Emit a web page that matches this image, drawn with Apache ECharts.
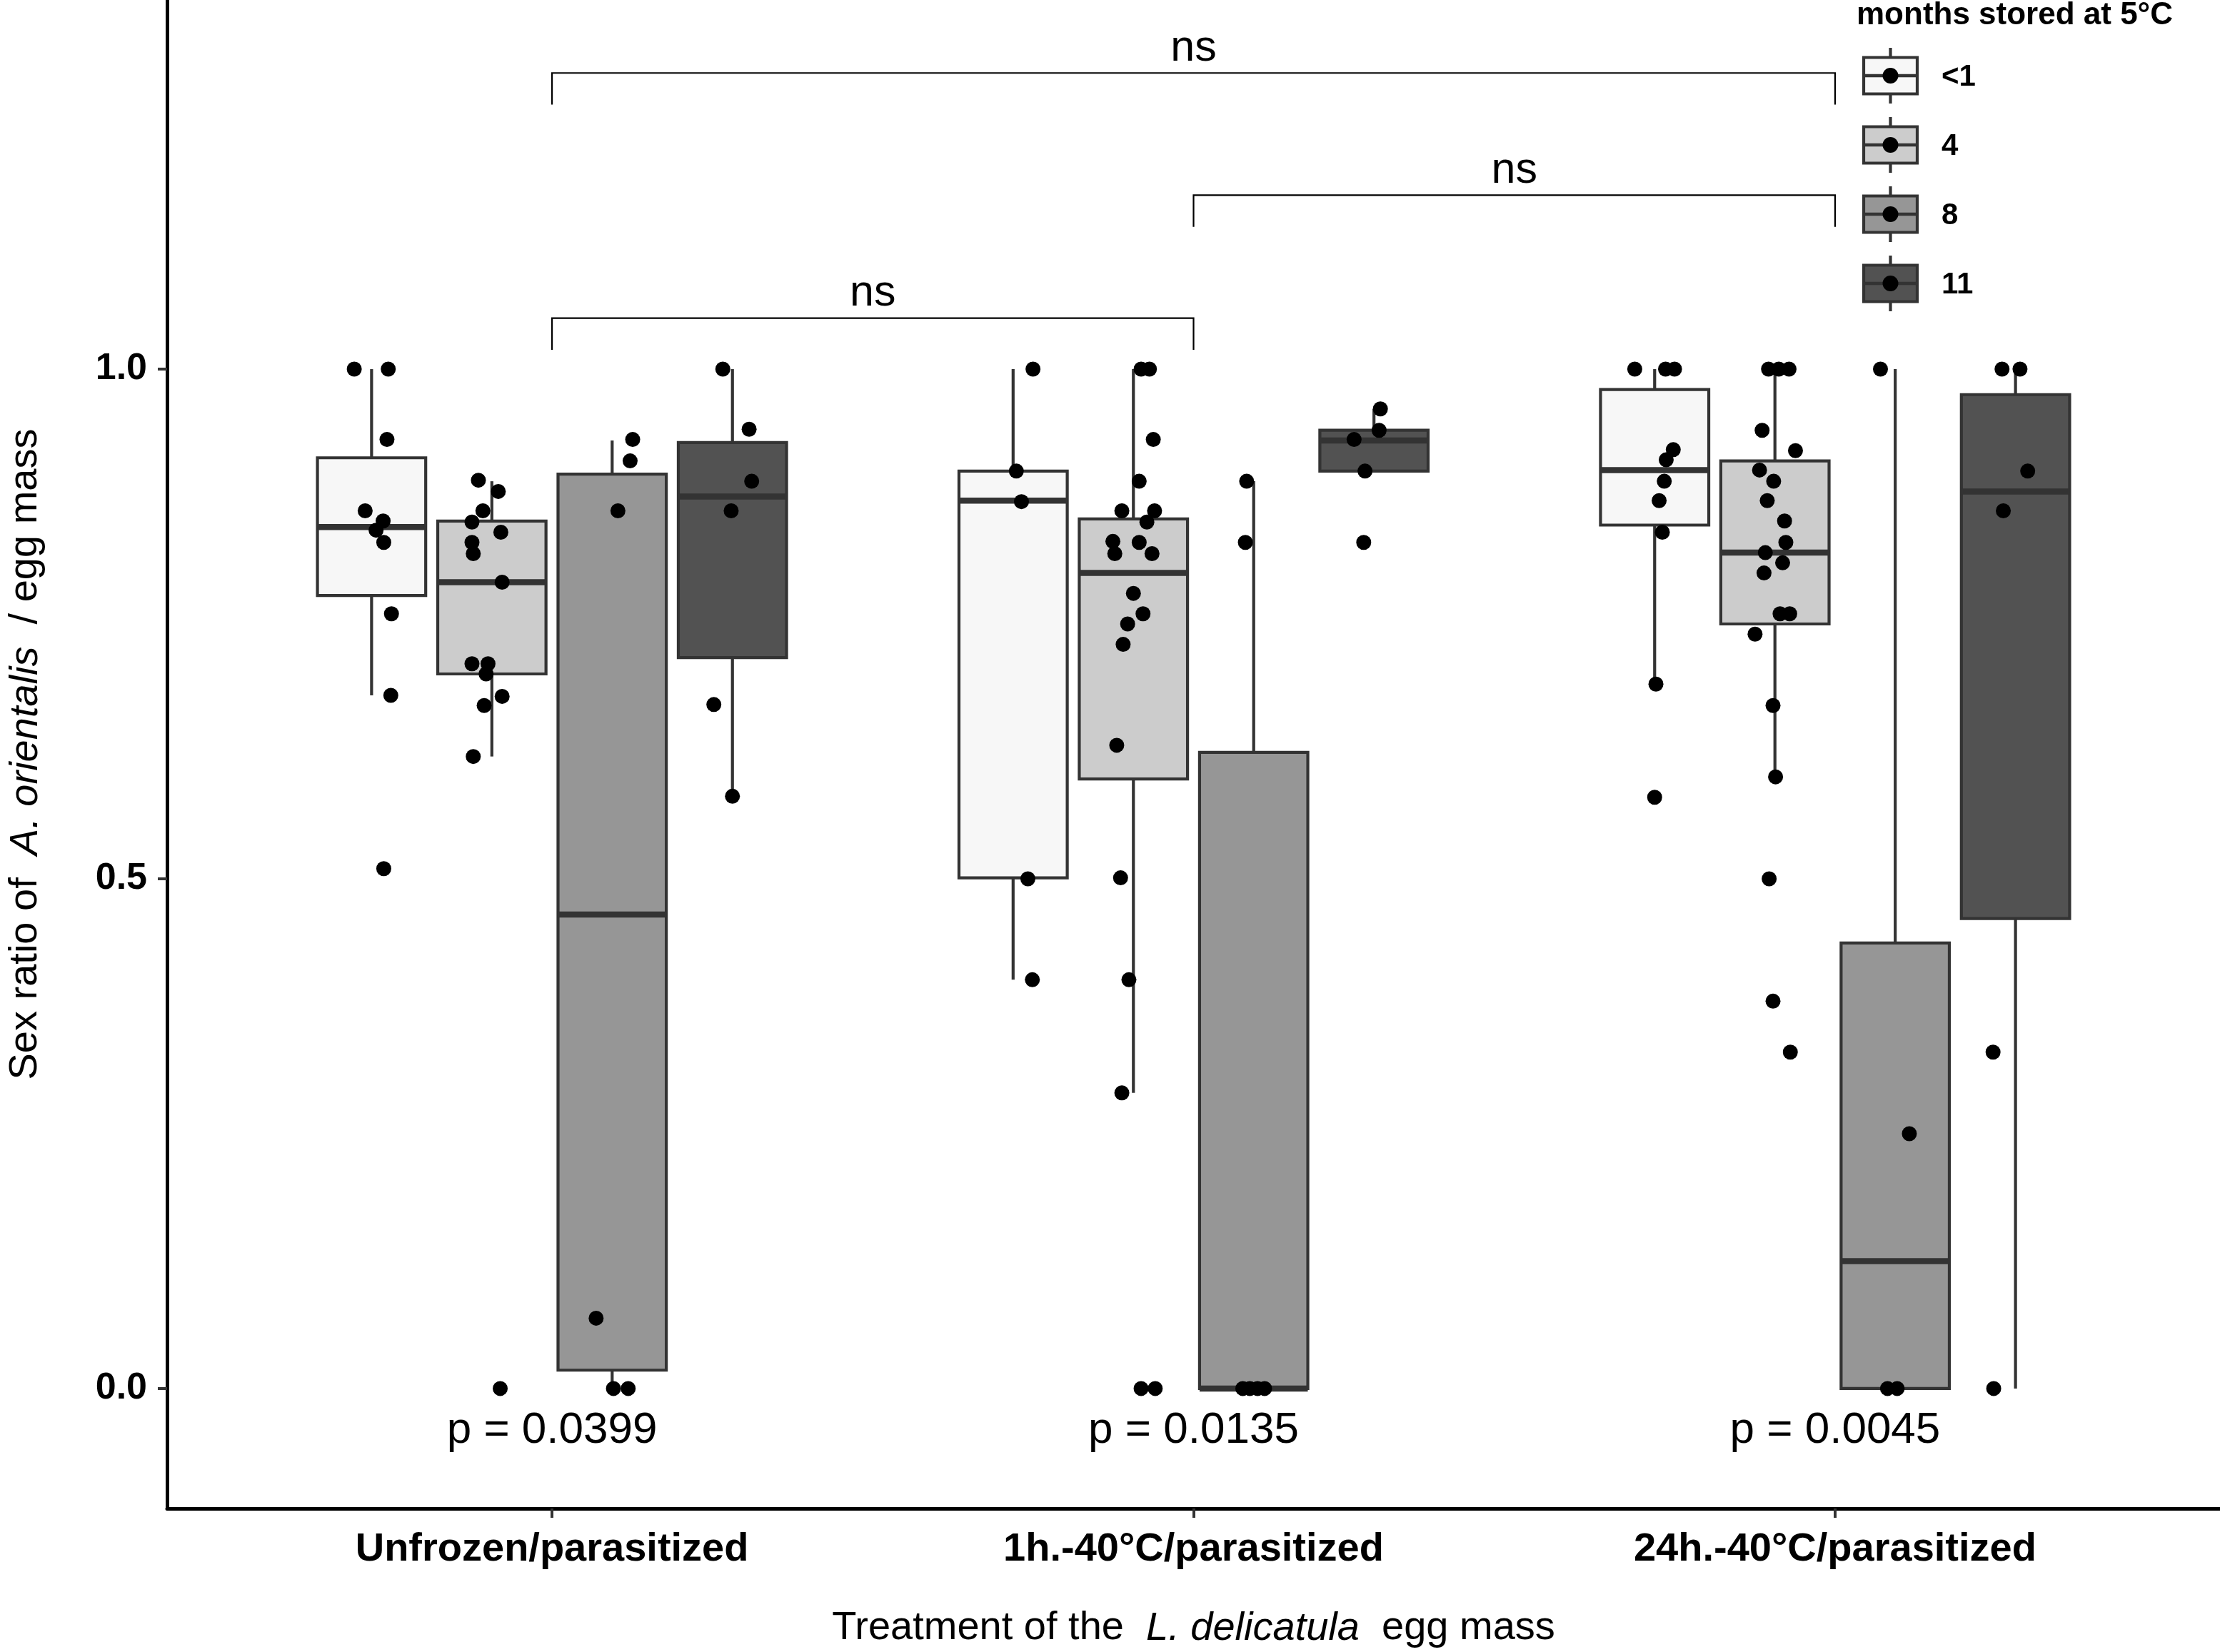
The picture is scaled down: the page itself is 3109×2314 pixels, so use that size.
<!DOCTYPE html>
<html><head><meta charset="utf-8">
<script src="https://cdn.jsdelivr.net/npm/echarts@6/dist/echarts.min.js"></script>
<style>html,body{margin:0;padding:0;background:#fff}#chart{width:3109px;height:2314px}</style>
</head><body><div id="chart"></div>
<script>
// ---------------- data ----------------
const categories = ['Unfrozen/parasitized', '1h.-40°C/parasitized', '24h.-40°C/parasitized'];
const storageGroups = ['<1', '4', '8', '11'];
const yTicks = [0, 0.5, 1.0];

// box statistics per treatment: [lower whisker, Q1, median, Q3, upper whisker]
const boxLess1 = [[0.680, 0.778, 0.845, 0.913, 1.000], [0.401, 0.501, 0.871, 0.900, 1.000], [0.691, 0.847, 0.901, 0.980, 1.000]];
const box4     = [[0.620, 0.701, 0.791, 0.851, 0.890], [0.290, 0.598, 0.800, 0.853, 1.000], [0.600, 0.750, 0.820, 0.910, 1.000]];
const box8     = [[0.000, 0.018, 0.465, 0.897, 0.930], [0.000, 0.000, 0.000, 0.624, 0.890], [0.000, 0.000, 0.125, 0.437, 1.000]];
const box11    = [[0.581, 0.717, 0.875, 0.928, 1.000], [0.900, 0.900, 0.930, 0.940, 0.961], [0.000, 0.461, 0.880, 0.975, 1.000]];

// individual egg masses per treatment: [sex ratio, horizontal jitter]
const ptsLess1 = [
  [[1.0,-0.027],[1.0,0.026],[0.931,0.024],[0.861,-0.010],[0.851,0.018],[0.842,0.007],[0.830,0.019],[0.760,0.031],[0.680,0.030],[0.510,0.019]],
  [[1.0,0.031],[0.900,0.005],[0.870,0.013],[0.500,0.023],[0.401,0.030]],
  [[1.0,-0.031],[1.0,0.017],[1.0,0.031],[0.921,0.029],[0.911,0.018],[0.890,0.015],[0.871,0.007],[0.840,0.012],[0.691,0.002],[0.580,0.000]]
];
const pts4 = [
  [[0.891,-0.021],[0.880,0.010],[0.861,-0.014],[0.850,-0.031],[0.840,0.014],[0.830,-0.031],[0.819,-0.029],[0.791,0.016],[0.711,-0.031],[0.711,-0.006],[0.701,-0.009],[0.679,0.016],[0.670,-0.012],[0.620,-0.029],[0.0,0.013]],
  [[1.0,0.012],[1.0,0.025],[0.931,0.031],[0.890,0.009],[0.861,-0.018],[0.861,0.033],[0.850,0.021],[0.831,-0.032],[0.819,-0.029],[0.830,0.009],[0.819,0.029],[0.780,0.000],[0.760,0.015],[0.750,-0.009],[0.730,-0.016],[0.631,-0.026],[0.501,-0.020],[0.401,-0.007],[0.290,-0.018],[0.0,0.012],[0.0,0.034]],
  [[1.0,-0.010],[1.0,0.006],[1.0,0.022],[0.940,-0.020],[0.920,0.032],[0.901,-0.024],[0.890,-0.002],[0.871,-0.012],[0.851,0.015],[0.830,0.017],[0.820,-0.015],[0.810,0.012],[0.800,-0.017],[0.760,0.008],[0.760,0.023],[0.740,-0.031],[0.670,-0.003],[0.600,0.001],[0.500,-0.009],[0.380,-0.003],[0.330,0.024]]
];
const pts8 = [
  [[0.931,0.032],[0.910,0.028],[0.861,0.009],[0.069,-0.025],[0.0,0.002],[0.0,0.025]],
  [[0.890,-0.011],[0.830,-0.013],[0.0,-0.017],[0.0,-0.006],[0.0,0.006],[0.0,0.017]],
  [[1.0,-0.023],[0.250,0.022],[0.0,-0.012],[0.0,0.003]]
];
const pts11 = [
  [[1.0,-0.015],[0.941,0.026],[0.890,0.030],[0.861,-0.002],[0.671,-0.029],[0.581,0.000]],
  [[0.961,0.010],[0.940,0.008],[0.931,-0.031],[0.900,-0.014],[0.830,-0.016]],
  [[1.0,-0.021],[1.0,0.007],[0.900,0.019],[0.861,-0.019],[0.330,-0.035],[0.0,-0.034]]
];

// pairwise comparisons: [from treatment, to treatment, bracket height, label]
const brackets = [[1, 3, 1.2905, 'ns'], [2, 3, 1.1706, 'ns'], [1, 2, 1.050, 'ns']];
const pValues = ['p = 0.0399', 'p = 0.0135', 'p = 0.0045'];
const pValueY = -0.041;

// ---------------- styles / layout ----------------
const fills = ['#f7f7f7', '#cccccc', '#969696', '#525252'];
const FONT = '"Liberation Sans", Arial, Helvetica, sans-serif';
const DODGE = 0.75 / 4;
const BOX_W = DODGE * 0.9;
const TIP = 0.031;

const allBoxes = [boxLess1, box4, box8, box11];
const allPts = [ptsLess1, pts4, pts8, pts11];
const offs = storageGroups.map((g, k) => (k - 1.5) * DODGE);

function renderBox(fill) {
  return function (params, api) {
    const x = api.value(0);
    const lo = api.coord([x, api.value(1)]);
    const q1 = api.coord([x, api.value(2)]);
    const md = api.coord([x, api.value(3)]);
    const q3 = api.coord([x, api.value(4)]);
    const hi = api.coord([x, api.value(5)]);
    const hw = api.size([BOX_W, 0])[0] / 2;
    const ls = { stroke: '#333333', lineWidth: 4.2 };
    return { type: 'group', children: [
      { type: 'line', shape: { x1: lo[0], y1: lo[1], x2: q1[0], y2: q1[1] }, style: ls },
      { type: 'line', shape: { x1: q3[0], y1: q3[1], x2: hi[0], y2: hi[1] }, style: ls },
      { type: 'rect', shape: { x: q1[0] - hw, y: q3[1], width: 2 * hw, height: q1[1] - q3[1] },
        style: { fill: fill, stroke: '#333333', lineWidth: 4.2 } },
      { type: 'line', shape: { x1: md[0] - hw, y1: md[1], x2: md[0] + hw, y2: md[1] },
        style: { stroke: '#333333', lineWidth: 8.5 } }
    ]};
  };
}

const series = [];
storageGroups.forEach((g, k) => {
  series.push({
    type: 'custom', name: g, renderItem: renderBox(fills[k]),
    encode: { x: 0, y: [1, 2, 3, 4, 5] },
    data: allBoxes[k].map((b, i) => [i + 1 + offs[k]].concat(b)),
    z: 2, silent: true
  });
});
const pointData = [];
storageGroups.forEach((g, k) => {
  allPts[k].forEach((list, i) => list.forEach(p => pointData.push([i + 1 + offs[k] + p[1], p[0]])));
});
series.push({
  type: 'scatter', name: 'points', data: pointData, symbolSize: 21,
  itemStyle: { color: '#000000', opacity: 1 }, z: 5, silent: true
});
series.push({
  type: 'custom', name: 'brackets', data: brackets.map(b => [b[0], b[1], b[2]]),
  renderItem: function (params, api) {
    const y = api.value(2);
    const a = api.coord([api.value(0), y]);
    const b = api.coord([api.value(1), y]);
    const a0 = api.coord([api.value(0), y - TIP]);
    const b0 = api.coord([api.value(1), y - TIP]);
    return { type: 'group', children: [
      { type: 'polyline', shape: { points: [a0, a, b, b0] }, style: { stroke: '#000', lineWidth: 2.2, fill: null } },
      { type: 'text', x: (a[0] + b[0]) / 2, y: a[1] - 4,
        style: { text: brackets[params.dataIndex][3], fill: '#000', font: '61px ' + FONT, align: 'center', verticalAlign: 'bottom' } }
    ]};
  }, z: 4, silent: true
});
series.push({
  type: 'custom', name: 'pvalues', data: pValues.map((p, i) => [i + 1, pValueY]),
  renderItem: function (params, api) {
    const c = api.coord([api.value(0), api.value(1)]);
    return { type: 'text', x: c[0], y: c[1],
      style: { text: pValues[params.dataIndex], fill: '#000', font: '62px ' + FONT, align: 'center', verticalAlign: 'middle' } };
  }, z: 4, silent: true
});

// legend drawn as graphic keys
const legendGraphics = [{
  type: 'text', left: 2600, top: 0,
  style: { text: 'months stored at 5°C', fill: '#000', font: 'bold 44px ' + FONT }
}];
const keyCY = [106, 203, 300, 397];
storageGroups.forEach((g, k) => {
  const cx = 2647.5, cy = keyCY[k];
  legendGraphics.push(
    { type: 'line', shape: { x1: cx, y1: cy - 39, x2: cx, y2: cy + 39 }, style: { stroke: '#333', lineWidth: 4.2 } },
    { type: 'rect', shape: { x: cx - 37.5, y: cy - 25.5, width: 75, height: 51 }, style: { fill: fills[k], stroke: '#333', lineWidth: 4.2 } },
    { type: 'line', shape: { x1: cx - 37.5, y1: cy, x2: cx + 37.5, y2: cy }, style: { stroke: '#333', lineWidth: 4.5 } },
    { type: 'circle', shape: { cx: cx, cy: cy, r: 11 }, style: { fill: '#000' } },
    { type: 'text', x: 2719, y: cy + 2, style: { text: g, fill: '#000', font: 'bold 42px ' + FONT, verticalAlign: 'middle' } }
  );
});

const option = {
  animation: false,
  backgroundColor: '#ffffff',
  grid: { left: 222, right: 0, top: 0, bottom: 190, containLabel: false },
  xAxis: {
    type: 'value', min: 0.4, max: 3.6,
    splitLine: { show: false },
    axisLine: { show: true, onZero: false, lineStyle: { color: '#000', width: 5 } },
    axisTick: { show: true, customValues: [1, 2, 3], length: 13, lineStyle: { color: '#333', width: 4 } },
    axisLabel: { show: true, customValues: [1, 2, 3], margin: 30, formatter: v => categories[Math.round(v) - 1],
      color: '#000', fontFamily: FONT, fontWeight: 'bold', fontSize: 56 },
    name: 'Treatment of the  {i|L. delicatula}  egg mass', nameLocation: 'middle', nameGap: 140,
    nameTextStyle: { color: '#000', fontFamily: FONT, fontSize: 56,
      rich: { i: { fontStyle: 'italic', fontFamily: FONT, fontSize: 56, color: '#000' } } }
  },
  yAxis: {
    type: 'value', min: -0.1177, max: 1.3621,
    splitLine: { show: false },
    axisLine: { show: true, onZero: false, lineStyle: { color: '#000', width: 5 } },
    axisTick: { show: true, customValues: yTicks, length: 13, lineStyle: { color: '#333', width: 4 } },
    axisLabel: { show: true, customValues: yTicks, margin: 28, formatter: v => v.toFixed(1),
      color: '#000', fontFamily: FONT, fontWeight: 'bold', fontSize: 52 },
    name: 'Sex ratio of  {i|A. orientalis}  / egg mass', nameLocation: 'middle', nameGap: 170, nameRotate: 90,
    nameTextStyle: { color: '#000', fontFamily: FONT, fontSize: 56,
      rich: { i: { fontStyle: 'italic', fontFamily: FONT, fontSize: 56, color: '#000' } } }
  },
  graphic: legendGraphics,
  series: series
};
const chart = echarts.init(document.getElementById('chart'));
chart.setOption(option);
</script></body></html>
